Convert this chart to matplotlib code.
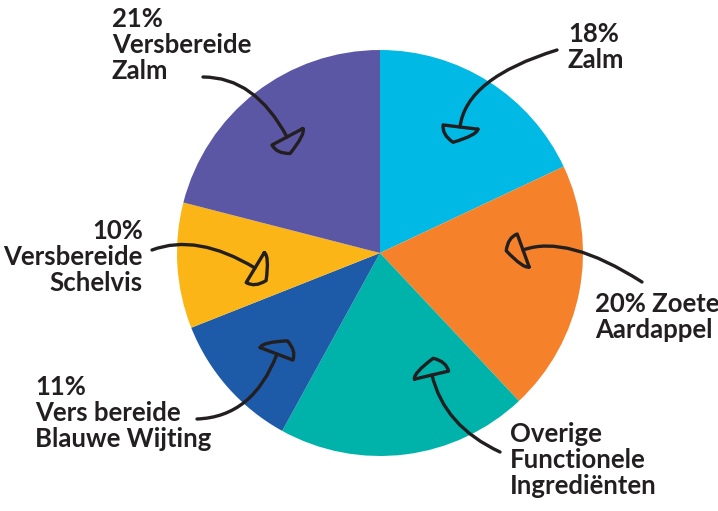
import numpy as np
import matplotlib.pyplot as plt
from matplotlib.path import Path
from matplotlib.patches import PathPatch

plt.rcParams['font.family'] = ['Lato', 'DejaVu Sans']

# data (clockwise from 12 o'clock)
labels = ["18%\nZalm", "20% Zoete\nAardappel", "Overige\nFunctionele\nIngrediënten",
          "11%\nVers bereide\nBlauwe Wijting", "10%\nVersbereide\nSchelvis",
          "21%\nVersbereide\nZalm"]
shares = [18, 20, 20, 11, 10, 21]
colors = ["#00B9E5", "#F5822A", "#00B3AA", "#1D5BA8", "#FBB517", "#5B57A4"]

H = 511
def P(x, y):
    # pixel position (y down) -> axes data (y up)
    return np.array([x, H - y], dtype=float)

# layout of labels: (x, y_top, ha)
label_pos = [(568, 22, "left"), (595, 292, "left"), (510, 422, "left"),
             (35, 375, "left"), (143, 219, "right"), (112, 7, "left")]
# arrows: start, control, end (pixels)
arrows = [((557, 50), (466, 78), (460, 127)),
          ((642, 282), (567, 234), (523, 250)),
          ((500, 452), (444, 426), (432, 375)),
          ((197, 419), (253, 417), (277, 354)),
          ((152, 250), (197, 233), (255, 268)),
          ((203, 77), (255, 77), (287, 137))]

ink = "#231F20"

fig = plt.figure(figsize=(7.18, 5.11), dpi=100)
ax = fig.add_axes([0, 0, 1, 1])

ax.pie(shares, colors=colors, startangle=90, counterclock=False,
       center=tuple(P(380, 253)), radius=203, frame=True)
ax.set_xlim(0, 718)
ax.set_ylim(0, H)
ax.set_aspect("equal")
ax.axis("off")

for lab, (x, y, ha) in zip(labels, label_pos):
    ax.text(*P(x, y), lab, ha=ha, va="top", fontsize=18.5, fontweight="bold",
            color=ink, linespacing=1.1, multialignment=ha)

for s, c, e in arrows:
    s, c, e = P(*s), P(*c), P(*e)
    path = Path([s, c, e], [Path.MOVETO, Path.CURVE3, Path.CURVE3])
    ax.add_patch(PathPatch(path, fill=False, lw=2.4, ec=ink, capstyle="round"))
    # hand-drawn looking head: base across the line end, rounded tip ahead
    d = (e - c) / np.linalg.norm(e - c)
    n = np.array([-d[1], d[0]])
    a, b = e + 18 * n, e - 17 * n
    tip = e + 16 * d - 5 * n
    verts = [a, b, b + 10 * d, tip, a + 6 * d, a]
    codes = [Path.MOVETO, Path.LINETO, Path.CURVE3, Path.CURVE3,
             Path.CURVE3, Path.CURVE3]
    ax.add_patch(PathPatch(Path(verts, codes), fill=False, lw=2.4, ec=ink,
                           joinstyle="round", capstyle="round"))

fig.savefig("out.png", dpi=100)
